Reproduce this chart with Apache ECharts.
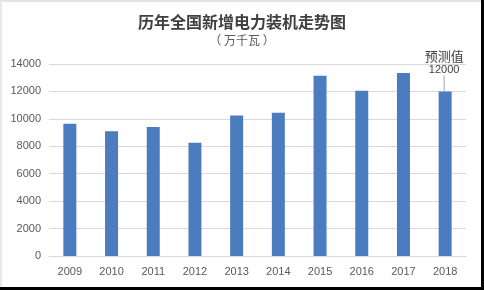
<!DOCTYPE html>
<html>
<head>
<meta charset="utf-8">
<script src="https://cdn.jsdelivr.net/npm/echarts@6/dist/echarts.min.js"></script>
<style>
html,body{margin:0;padding:0;background:#fff;}
#c{width:484px;height:290px;}
</style>
</head>
<body>
<div id="c"></div>
<script>
var years = ['2009','2010','2011','2012','2013','2014','2015','2016','2017','2018'];
var values = [9650, 9100, 9400, 8250, 10250, 10450, 13150, 12050, 13350, 12000];
var yTicks = [0, 2000, 4000, 6000, 8000, 10000, 12000, 14000];
var titleText = '历年全国新增电力装机走势图';
var subText = '（ 万千瓦 ）';
var forecastLabel = '预测值';

var chart = echarts.init(document.getElementById('c'), null, {renderer: 'canvas'});
var lastIdx = values.length - 1;
var data = values.map(function (v, i) {
  if (i === lastIdx) {
    return {
      value: v,
      label: {
        show: true,
        position: 'top',
        distance: 3,
        formatter: '{a|' + forecastLabel + '}\n{b|{c}}',
        rich: {
          a: {fontSize: 13, color: '#404040', fontFamily: 'Noto Sans CJK SC', lineHeight: 15},
          b: {fontSize: 11, color: '#404040', fontFamily: 'Liberation Sans', lineHeight: 13}
        },
        align: 'center'
      }
    };
  }
  return v;
});

chart.setOption({
  animation: false,
  backgroundColor: '#fff',
  title: {
    text: titleText,
    subtext: subText,
    left: 'center',
    top: 9,
    itemGap: 4,
    textStyle: {fontSize: 16, fontWeight: 'bold', color: '#404040', fontFamily: 'Noto Sans CJK SC'},
    subtextStyle: {fontSize: 12, color: '#595959', fontFamily: 'Noto Sans CJK SC'}
  },
  grid: {left: 49, right: 18, top: 64, bottom: 34},
  xAxis: {
    type: 'category',
    data: years,
    axisTick: {show: false},
    axisLine: {lineStyle: {color: '#d9d9d9'}},
    axisLabel: {color: '#595959', fontSize: 11, fontFamily: 'Liberation Sans', margin: 10}
  },
  yAxis: {
    type: 'value',
    min: yTicks[0],
    max: yTicks[yTicks.length - 1],
    interval: 2000,
    axisLine: {show: false},
    axisTick: {show: false},
    splitLine: {lineStyle: {color: '#d9d9d9'}},
    axisLabel: {color: '#595959', fontSize: 11, fontFamily: 'Liberation Sans', margin: 8,
      formatter: function (v) { return String(v); }}
  },
  series: [{
    type: 'bar',
    data: data,
    barWidth: 13,
    itemStyle: {color: '#4a7cbf'},
    labelLine: {show: true, lineStyle: {color: '#a6a6a6', width: 1}},
    labelLayout: function (p) {
      if (p.dataIndex === lastIdx) { return {dy: -12, dx: -1}; }
      return {};
    }
  }],
  graphic: [
    {type: 'rect', shape: {x: 0, y: 0, width: 484, height: 2}, style: {fill: '#e4e4e4'}, silent: true},
    {type: 'rect', shape: {x: 0, y: 0, width: 2, height: 290}, style: {fill: '#e8e8e8'}, silent: true},
    {type: 'rect', shape: {x: 481, y: 0, width: 3, height: 290}, style: {fill: '#000'}, silent: true},
    {type: 'rect', shape: {x: 0, y: 287, width: 484, height: 3}, style: {fill: '#000'}, silent: true}
  ]
});
</script>
</body>
</html>
